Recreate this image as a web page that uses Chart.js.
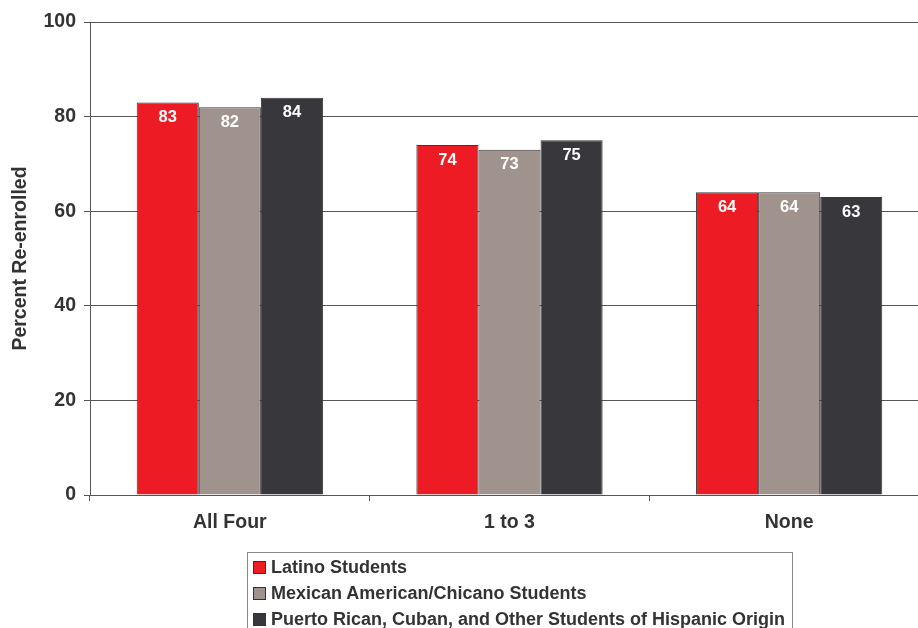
<!DOCTYPE html>
<html>
<head>
<meta charset="utf-8">
<script src="https://cdn.jsdelivr.net/npm/chart.js@4.4.1/dist/chart.umd.min.js"></script>
<style>
  html, body { margin: 0; padding: 0; background: #fff; }
  #wrap { position: relative; width: 918px; height: 628px; overflow: hidden; }
  #legend {
    position: absolute; left: 247px; top: 552px; width: 546px; height: 90px;
    border: 1px solid #8a8a8a; box-sizing: border-box; padding: 1px 0 0 5px;
    font: bold 18px "Liberation Sans", Arial, sans-serif; color: #333;
  }
  .item { height: 26px; display: flex; align-items: center; white-space: nowrap; }
  .sw { width: 13px; height: 13px; border: 1px solid #333; box-sizing: border-box; margin-right: 5px; }
</style>
</head>
<body>
<div id="wrap">
  <canvas id="chart" width="930" height="628"></canvas>
  <div id="legend"></div>
</div>
<script>
const categories = ['All Four', '1 to 3', 'None'];
const seriesNames = [
  'Latino Students',
  'Mexican American/Chicano Students',
  'Puerto Rican, Cuban, and Other Students of Hispanic Origin'
];
const latino = [83, 74, 64];
const mexican = [82, 73, 64];
const puertoRican = [84, 75, 63];
const yTicks = [0, 20, 40, 60, 80, 100];
const colors = ['#ED1C24', '#A0938E', '#38373C'];

const textColor = '#333333';
const fontFamily = '"Liberation Sans", Arial, sans-serif';

// white value labels just inside the top of each bar
const valueLabels = {
  id: 'valueLabels',
  afterDatasetsDraw(chart) {
    const ctx = chart.ctx;
    ctx.save();
    ctx.fillStyle = '#fff';
    ctx.font = 'bold 16.5px ' + fontFamily;
    ctx.textAlign = 'center';
    ctx.textBaseline = 'middle';
    chart.data.datasets.forEach((ds, i) => {
      chart.getDatasetMeta(i).data.forEach((bar, j) => {
        ctx.fillText(ds.data[j], bar.x, bar.y + 15);
      });
    });
    ctx.restore();
  }
};

const sets = [latino, mexican, puertoRican];
const chart = new Chart(document.getElementById('chart'), {
  type: 'bar',
  data: {
    labels: categories,
    datasets: sets.map((d, i) => ({
      label: seriesNames[i],
      data: d,
      backgroundColor: colors[i],
      borderColor: '#3a3a3a',
      borderWidth: 1,
      borderSkipped: 'bottom',
      barPercentage: 1,
      categoryPercentage: 0.666
    }))
  },
  options: {
    responsive: false,
    animation: false,
    layout: { padding: { top: 22, right: 1, left: 0, bottom: 0 } },
    plugins: { legend: { display: false }, tooltip: { enabled: false } },
    scales: {
      x: {
        afterFit: s => { s.height = 133; },
        grid: { offset: true, drawOnChartArea: false, drawTicks: true, tickLength: 6, color: '#555' },
        border: { color: '#555', width: 1 },
        ticks: { color: textColor, font: { family: fontFamily, size: 19.5, weight: 'bold' }, padding: 10 }
      },
      y: {
        min: 0, max: 100,
        afterFit: s => { s.width = 90; },
        afterBuildTicks: s => { s.ticks = yTicks.map(v => ({ value: v })); },
        grid: { color: '#555', tickLength: 6, lineWidth: 1 },
        border: { color: '#555', width: 1 },
        ticks: { color: textColor, font: { family: fontFamily, size: 19.5, weight: 'bold' }, padding: 8 },
        title: {
          display: true, text: 'Percent Re-enrolled', color: textColor,
          font: { family: fontFamily, size: 19.5, weight: 'bold' }, padding: { top: 9, bottom: 4 }
        }
      }
    }
  },
  plugins: [valueLabels]
});

document.getElementById('legend').innerHTML = seriesNames.map((n, i) =>
  `<div class="item"><span class="sw" style="background:${colors[i]}"></span>${n}</div>`
).join('');
</script>
</body>
</html>
